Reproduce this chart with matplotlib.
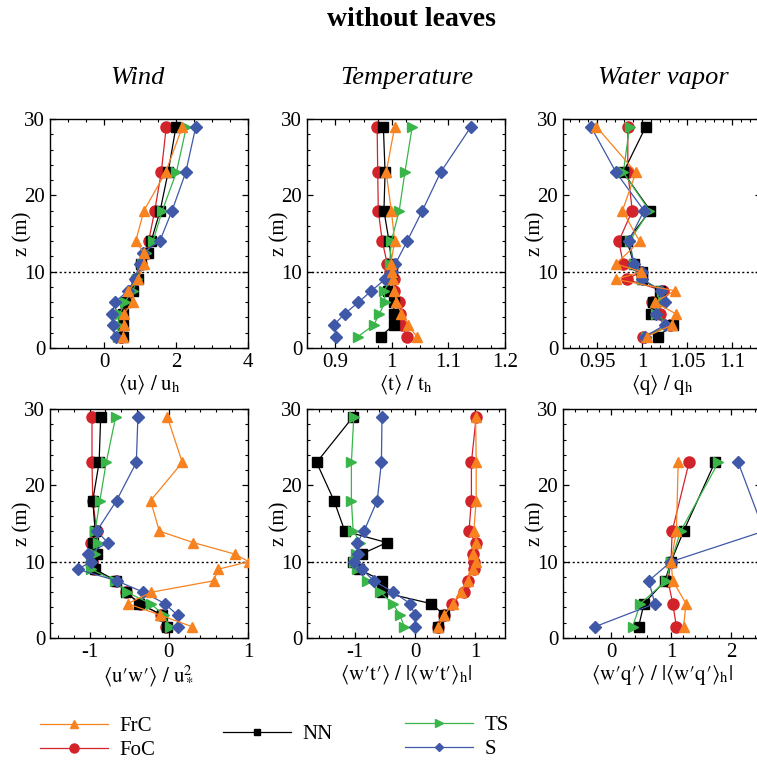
import numpy as np
import matplotlib
matplotlib.use('Agg')
import matplotlib.pyplot as plt
from matplotlib.ticker import MultipleLocator, FuncFormatter
from matplotlib.lines import Line2D

plt.rcParams['font.family'] = ['Liberation Serif', 'DejaVu Serif']
plt.rcParams['mathtext.fontset'] = 'stix'
plt.rcParams['font.size'] = 15

# series order: FoC, NN, TS, S, FrC
names = ['FoC', 'NN', 'TS', 'S', 'FrC']
colors = {'FrC': '#f7821f', 'FoC': '#d3232a', 'NN': 'black', 'TS': '#39b54a', 'S': '#3f58a7'}
markers = {'FrC': '^', 'FoC': 'o', 'NN': 's', 'TS': '>', 'S': 'D'}
msizes = {'FrC': 7, 'FoC': 8, 'NN': 6.5, 'TS': 7, 'S': 6}

# heights (m)
z_wind = [1.5, 3, 4.5, 6, 7.5, 9, 11, 12.5, 14, 18, 23, 29]
z_temp = [1.5, 3, 4.5, 6, 7.5, 9, 10, 11, 14, 18, 23, 29]
z_vap = [1.5, 3, 4.5, 6, 7.5, 9, 10, 11, 14, 18, 23, 29]
z_flux = [1.5, 3, 4.5, 6, 7.5, 9, 10, 11, 12.5, 14, 18, 23, 29]
z_qflux = [1.5, 4.5, 7.5, 10, 14, 23]

# <u>/u_h
wind = {
    'FoC': [0.48, 0.50, 0.51, 0.60, 0.76, 0.90, 1.04, 1.20, 1.24, 1.41, 1.59, 1.73],
    'NN':  [0.53, 0.53, 0.53, 0.62, 0.80, 0.94, 1.04, 1.22, 1.31, 1.56, 1.78, 2.00],
    'TS':  [0.39, 0.39, 0.44, 0.57, 0.80, 0.92, 1.06, 1.18, 1.36, 1.62, 2.01, 2.29],
    'S':   [0.32, 0.25, 0.23, 0.30, 0.67, 0.85, 0.99, 1.08, 1.55, 1.89, 2.27, 2.55],
    'FrC': [0.53, 0.55, 0.55, 0.80, 0.67, 0.95, 1.11, 1.10, 0.88, 1.11, 1.71, 2.18],
}
# <t>/t_h
temp = {
    'FoC': [1.027, 1.018, 1.015, 1.012, 1.003, 1.004, 0.997, 0.992, 0.983, 0.976, 0.975, 0.974],
    'NN':  [0.980, 1.003, 1.003, 1.004, 0.993, 0.998, 1.000, 1.000, 0.995, 0.986, 0.988, 0.985],
    'TS':  [0.940, 0.968, 0.978, 0.988, 0.986, 0.999, 1.000, 0.996, 0.999, 1.013, 1.023, 1.036],
    'S':   [0.902, 0.897, 0.917, 0.941, 0.964, 0.988, 1.000, 1.006, 1.027, 1.054, 1.086, 1.140],
    'FrC': [1.044, 1.029, 1.017, 1.008, 1.004, 1.002, 1.000, 0.998, 1.005, 0.999, 0.990, 1.005],
}
# <q>/q_h
vap = {
    'FoC': [1.001, 1.031, 1.020, 1.011, 1.023, 0.983, 0.999, 0.979, 0.974, 0.989, 0.984, 0.984],
    'NN':  [1.017, 1.034, 1.010, 1.012, 1.020, 1.000, 1.000, 0.991, 0.983, 1.009, 0.979, 1.004],
    'TS':  [1.004, 1.030, 1.015, 1.023, 1.022, 1.000, 1.000, 0.991, 0.986, 1.008, 0.979, 0.986],
    'S':   [1.003, 1.025, 1.015, 1.025, 1.021, 1.000, 1.000, 0.991, 0.985, 1.002, 0.971, 0.943],
    'FrC': [1.005, 1.033, 1.037, 1.014, 1.036, 0.971, 0.999, 0.971, 0.997, 0.978, 0.993, 0.949],
}
# <u'w'>/u*^2
uw = {
    'FoC': [-0.03, -0.10, -0.36, -0.54, -0.67, -0.94, -0.97, -0.95, -0.98, -0.91, -0.96, -0.97, -0.97],
    'NN':  [-0.02, -0.08, -0.37, -0.54, -0.67, -0.93, -0.97, -0.91, -0.96, -0.93, -0.96, -0.88, -0.86],
    'TS':  [0.01, -0.06, -0.23, -0.53, -0.68, -0.98, -0.98, -0.93, -0.89, -0.93, -0.87, -0.79, -0.67],
    'S':   [0.12, 0.11, -0.05, -0.32, -0.66, -1.15, -0.98, -1.02, -0.77, -0.91, -0.66, -0.41, -0.39],
    'FrC': [0.29, -0.11, -0.52, -0.22, 0.57, 0.62, 1.01, 0.83, 0.31, -0.12, -0.23, 0.17, -0.02],
}
# <w't'>/|<w't'>_h|
wt = {
    'FoC': [0.39, 0.49, 0.61, 0.82, 0.88, 0.98, 0.99, 0.96, 1.01, 0.90, 0.94, 0.94, 1.02],
    'NN':  [0.38, 0.49, 0.27, -0.55, -0.55, -0.93, -1.03, -0.89, -0.47, -1.17, -1.35, -1.64, -1.03],
    'TS':  [-0.18, -0.25, -0.37, -0.58, -0.80, -0.96, -1.02, -0.99, -0.91, -1.03, -1.06, -1.06, -1.02],
    'S':   [0.00, 0.00, -0.08, -0.36, -0.69, -0.88, -1.02, -0.95, -0.96, -0.85, -0.63, -0.56, -0.55],
    'FrC': [0.39, 0.49, 0.63, 0.76, 0.88, 0.97, 1.01, 0.97, 1.02, 0.98, 1.02, 1.02, 1.01],
}
# <w'q'>/|<w'q'>_h|
wq = {
    'FoC': [1.09, 1.03, 0.95, 1.00, 1.02, 1.30],
    'NN':  [0.46, 0.55, 0.90, 1.00, 1.21, 1.73],
    'TS':  [0.36, 0.49, 0.92, 1.00, 1.16, 1.79],
    'S':   [-0.26, 0.73, 0.63, 1.00, 2.55, 2.12],
    'FrC': [1.21, 1.25, 1.03, 1.00, 1.09, 1.12],
}

P = '\u2032'  # prime
panels = [
    (wind, z_wind, (-1.5, 4), 2, 0.5, r'$\langle\mathrm{u}\rangle\ /\ \mathrm{u}_\mathrm{h}$', 'Wind'),
    (temp, z_temp, (0.85, 1.2), 0.1, 0.025, r'$\langle\mathrm{t}\rangle\ /\ \mathrm{t}_\mathrm{h}$', 'Temperature'),
    (vap, z_vap, (0.912, 1.132), 0.05, 0.01, r'$\langle\mathrm{q}\rangle\ /\ \mathrm{q}_\mathrm{h}$', 'Water vapor'),
    (uw, z_flux, (-1.5, 1), 1, 0.2,
     r'$\langle\mathrm{u}' + P + r'\mathrm{w}' + P + r'\rangle\ /\ \mathrm{u}_*^2$', None),
    (wt, z_flux, (-1.8, 1.5), 1, 0.2,
     r'$\langle\mathrm{w}' + P + r'\mathrm{t}' + P + r'\rangle\ /\ |\langle\mathrm{w}' + P
     + r'\mathrm{t}' + P + r'\rangle_\mathrm{h}|$', None),
    (wq, z_qflux, (-0.8, 2.5), 1, 0.2,
     r'$\langle\mathrm{w}' + P + r'\mathrm{q}' + P + r'\rangle\ /\ |\langle\mathrm{w}' + P
     + r'\mathrm{q}' + P + r'\rangle_\mathrm{h}|$', None),
]

W, H = 757, 760
fig = plt.figure(figsize=(W / 100, H / 100), dpi=100)

lefts = [50, 307, 563]
tops = [119, 409]
aw, ah = 198, 229
title_x = [137, 407, 663]

fmt = FuncFormatter(lambda v, p: '%g' % round(v, 6))

for i, (data, z, xlim, major, minor, xlabel, title) in enumerate(panels):
    r, c = divmod(i, 3)
    ax = fig.add_axes([lefts[c] / W, 1 - (tops[r] + ah) / H, aw / W, ah / H])
    for n in names:
        ax.plot(data[n], z, color=colors[n], marker=markers[n], ms=msizes[n],
                lw=0.9, mec=colors[n], zorder=3)
    ax.axhline(10, color='black', ls=(0, (1.5, 1.8)), lw=1.0, zorder=2)
    ax.set_xlim(xlim)
    ax.set_ylim(0, 30)
    ax.xaxis.set_major_locator(MultipleLocator(major))
    ax.xaxis.set_minor_locator(MultipleLocator(minor))
    ax.xaxis.set_major_formatter(fmt)
    ax.yaxis.set_major_locator(MultipleLocator(10))
    ax.yaxis.set_minor_locator(MultipleLocator(2))
    ax.tick_params(which='both', direction='in', top=True, right=True, labelsize=15)
    ax.tick_params(which='major', length=4.5, width=0.9)
    ax.tick_params(which='minor', length=2.5, width=0.8)
    for s in ax.spines.values():
        s.set_linewidth(1.0)
    ax.set_xlabel(xlabel, fontsize=15, labelpad=1)
    ax.set_ylabel('z (m)', fontsize=15)
    ax.yaxis.set_label_coords(-0.088, 0.5)
    if title:
        fig.text(title_x[c] / W, 1 - 78 / H, title, fontsize=19,
                 style='italic', ha='center', va='center')

fig.text(411 / W, 1 - 20 / H, 'without leaves', fontsize=20, fontweight='bold',
         ha='center', va='center')


def handle(n):
    return Line2D([], [], color=colors[n], marker=markers[n], ms=msizes[n] - 1.5, lw=0.9)


groups = [(['FrC', 'FoC'], 40, 738.5), (['NN'], 223, 734), (['TS', 'S'], 405, 737.5)]
for labels, x0, yc in groups:
    fig.legend([handle(n) for n in labels], labels, loc='center left',
               bbox_to_anchor=(x0 / W, 1 - yc / H), frameon=False, fontsize=15,
               handlelength=3.27, handletextpad=0.55, borderpad=0, borderaxespad=0,
               labelspacing=0.2)

fig.savefig('out.png', dpi=100)
